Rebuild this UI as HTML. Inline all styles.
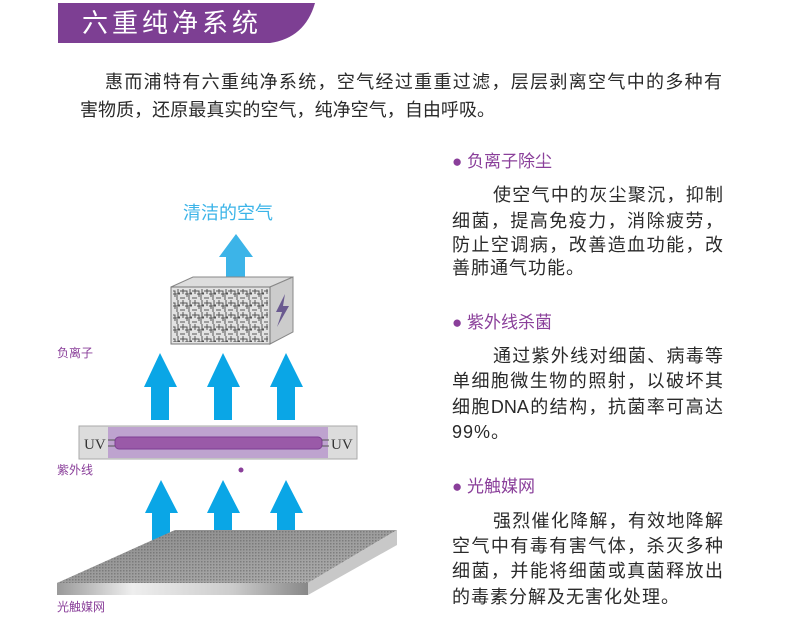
<!DOCTYPE html>
<html><head><meta charset="utf-8"><style>
body{margin:0;background:#fff;width:800px;height:621px;overflow:hidden;position:relative;font-family:"Liberation Sans","Noto Sans CJK SC",sans-serif}
.t{position:absolute;white-space:nowrap;color:#2a2a2a;font-size:18px;line-height:20px}
.j{text-align:justify;text-align-last:justify}
.h{color:#8a3f9a;font-size:17px}
.l{position:absolute;color:#8a3f9a;font-size:12px;line-height:14px}
</style></head><body>
<svg width="800" height="621" style="position:absolute;left:0;top:0">
<defs>
<pattern id="mz" width="12" height="12" patternUnits="userSpaceOnUse">
<path d="M0 3H7V9M3 0V6M10 0V5H12M0 10H5M9 7V12M5 6H12" stroke="#555" stroke-width="1" fill="none"/>
</pattern>
<pattern id="dt" width="3" height="3" patternUnits="userSpaceOnUse"><rect width="1.5" height="1.5" fill="#5a5a5a"/></pattern>
<linearGradient id="pl" x1="0" y1="0" x2="1" y2="1"><stop offset="0" stop-color="#8a8a8a"/><stop offset="1" stop-color="#b0b0b0"/></linearGradient>
<linearGradient id="ed" x1="0" x2="1"><stop offset="0" stop-color="#999"/><stop offset=".3" stop-color="#eee"/><stop offset=".7" stop-color="#ccc"/><stop offset="1" stop-color="#888"/></linearGradient>
</defs>
<path d="M58 3H315Q305 38 270 43H58Z" fill="#7d3f93"/>
<!-- top arrow -->
<path d="M226 281V257H219L236 234L253 257H245V281Z" fill="#3cb4e8"/>
<!-- cube -->
<path d="M171 287L193 277H293L270 287Z" fill="#ddd" stroke="#888"/>
<path d="M270 287L293 277V332L270 344Z" fill="#ccc" stroke="#888"/>
<rect x="171" y="287" width="99" height="57" fill="#e2e2e2" stroke="#777"/>
<rect x="173" y="289" width="95" height="53" fill="url(#mz)"/>
<path d="M285 294L276 312H282L277 327L289 306H283Z" fill="#6a5a90"/>
<!-- middle arrows -->
<g fill="#0aa6e6">
<path d="M151 420V387H144L160 353L177 387H169V420Z"/>
<path d="M214 420V387H207L223 353L240 387H232V420Z"/>
<path d="M277 420V387H270L286 353L303 387H295V420Z"/>
<path d="M152 548V513H145L161 480L178 513H170V548Z"/>
<path d="M214 548V513H207L223 480L240 513H232V548Z"/>
<path d="M277 548V513H270L286 480L303 513H295V548Z"/>
</g>
<!-- UV bar -->
<rect x="79" y="426" width="278" height="33" fill="#dcdcdc" stroke="#aaa"/>
<rect x="108" y="427" width="220" height="31" fill="#bea3cf"/>
<rect x="115" y="437" width="207" height="12" rx="4" fill="#9a5aa8" stroke="#7d3f93"/>
<path d="M108 440H115M108 446H115M322 440H329M322 446H329" stroke="#555"/>
<text x="84" y="449" font-family="Liberation Serif" font-size="15" fill="#333">UV</text>
<text x="331" y="449" font-family="Liberation Serif" font-size="15" fill="#333">UV</text>
<circle cx="241" cy="470" r="2.5" fill="#8a3f9a"/>
<!-- plate -->
<path d="M57 583L175 530H397L308 583Z" fill="url(#pl)"/>
<path d="M57 583L175 530H397L308 583Z" fill="url(#dt)" opacity=".5"/>
<rect x="57" y="583" width="251" height="12" fill="url(#ed)"/>
<path d="M308 583L397 530V545L308 595Z" fill="#c8c8c8"/>
</svg>
<div class="t" style="left:82px;top:8px;color:#fff;font-size:26px;line-height:30px;letter-spacing:4px">六重纯净系统</div>
<div class="t j" style="left:105px;top:72px;width:617px">惠而浦特有六重纯净系统，空气经过重重过滤，层层剥离空气中的多种有</div>
<div class="t j" style="left:80px;top:100px;width:415px">害物质，还原最真实的空气，纯净空气，自由呼吸。</div>
<div class="t" style="left:183px;top:203px;color:#3cb4e8;font-size:18px">清洁的空气</div>
<div class="l" style="left:57px;top:346px">负离子</div>
<div class="l" style="left:57px;top:463px">紫外线</div>
<div class="l" style="left:57px;top:600px">光触媒网</div>

<div class="t h" style="left:452px;top:152px">● 负离子除尘</div>
<div class="t j" style="left:493px;top:185px;width:230px">使空气中的灰尘聚沉，抑制</div>
<div class="t j" style="left:452px;top:211px;width:271px">细菌，提高免疫力，消除疲劳，</div>
<div class="t j" style="left:452px;top:235px;width:271px">防止空调病，改善造血功能，改</div>
<div class="t" style="left:452px;top:258px;letter-spacing:1px">善肺通气功能。</div>

<div class="t h" style="left:452px;top:313px">● 紫外线杀菌</div>
<div class="t j" style="left:493px;top:346px;width:230px">通过紫外线对细菌、病毒等</div>
<div class="t j" style="left:452px;top:371px;width:271px">单细胞微生物的照射，以破坏其</div>
<div class="t j" style="left:452px;top:397px;width:271px">细胞DNA的结构，抗菌率可高达</div>
<div class="t" style="left:452px;top:422px;letter-spacing:1px">99%。</div>

<div class="t h" style="left:452px;top:477px">● 光触媒网</div>
<div class="t j" style="left:493px;top:511px;width:230px">强烈催化降解，有效地降解</div>
<div class="t j" style="left:452px;top:536px;width:271px">空气中有毒有害气体，杀灭多种</div>
<div class="t j" style="left:452px;top:561px;width:271px">细菌，并能将细菌或真菌释放出</div>
<div class="t" style="left:452px;top:587px;letter-spacing:1px">的毒素分解及无害化处理。</div>
</body></html>
